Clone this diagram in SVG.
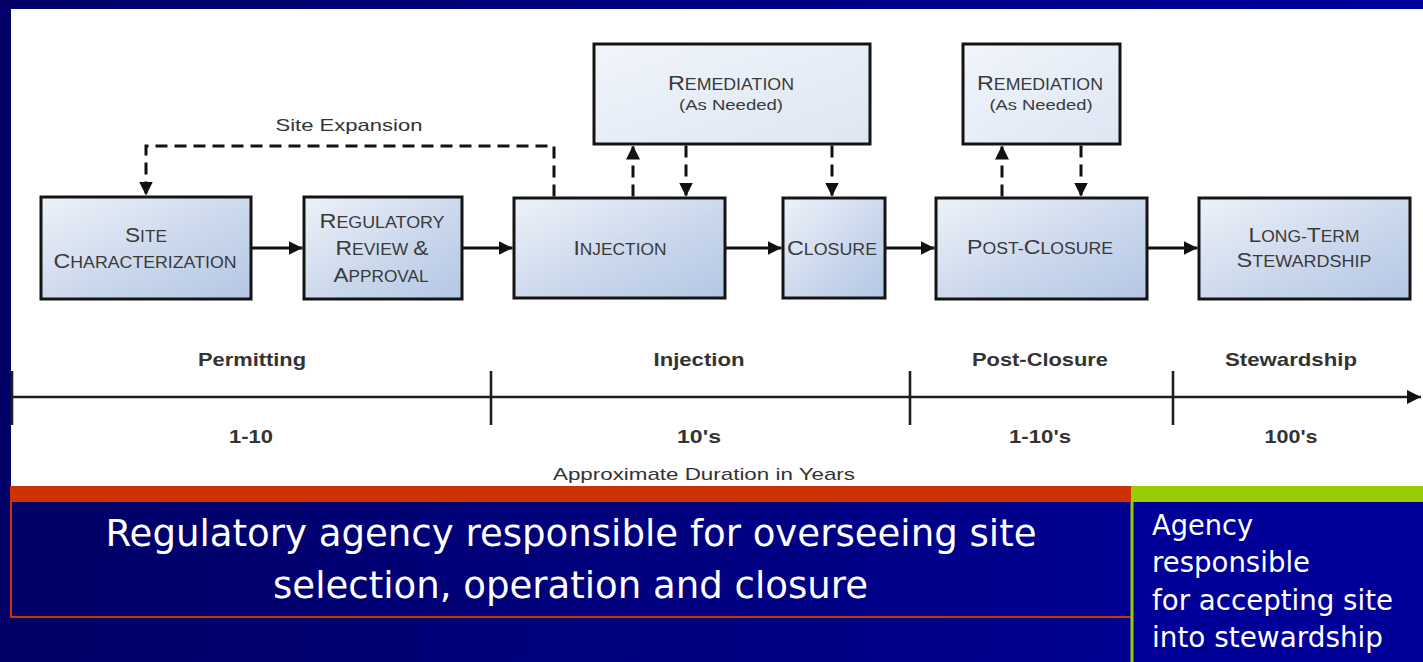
<svg xmlns="http://www.w3.org/2000/svg" width="1423" height="662" viewBox="0 0 1423 662">
  <style>
    .box { stroke: #141414; stroke-width: 3; }
    .lbl { font-family: "Liberation Sans", Arial, sans-serif; fill: #3a3a3a; text-anchor: middle; }
    .cap { font-size: 21px; }
    .sc { font-size: 16px; }
    .note { font-size: 15.5px; }
    .solid { fill: none; stroke: #111; stroke-width: 3; }
    .dash { fill: none; stroke: #111; stroke-width: 3; stroke-dasharray: 12 7; }
    .axis { fill: none; stroke: #1e1e1e; stroke-width: 2.6; }
    .phase { font-family: "Liberation Sans", Arial, sans-serif; font-weight: bold; font-size: 19px; fill: #333; text-anchor: middle; }
    .small { font-family: "Liberation Sans", Arial, sans-serif; font-size: 17px; fill: #333; text-anchor: middle; }
    .big { font-family: "DejaVu Sans", Verdana, sans-serif; font-size: 38px; fill: #ffffff; text-anchor: middle; }
    .side { font-family: "DejaVu Sans", Verdana, sans-serif; font-size: 29px; fill: #ffffff; }
  </style>
  <defs>
    <linearGradient id="bg" x1="0" y1="0" x2="1" y2="0">
      <stop offset="0" stop-color="#000066"/>
      <stop offset="1" stop-color="#00009c"/>
    </linearGradient>
    <linearGradient id="stepFill" x1="0" y1="0" x2="1" y2="1">
      <stop offset="0" stop-color="#eef2f9"/>
      <stop offset="0.55" stop-color="#cbd8ec"/>
      <stop offset="1" stop-color="#b3c7e5"/>
    </linearGradient>
    <linearGradient id="remFill" x1="0" y1="0" x2="1" y2="1">
      <stop offset="0" stop-color="#f1f5fb"/>
      <stop offset="1" stop-color="#dde6f3"/>
    </linearGradient>
    <marker id="head" markerUnits="userSpaceOnUse" markerWidth="16" markerHeight="16" refX="14" refY="7" orient="auto">
      <path d="M0,0 L14,7 L0,14 z" fill="#111"/>
    </marker>
  </defs>

  <!-- slide background and white drawing panel -->
  <rect x="0" y="0" width="1423" height="662" fill="url(#bg)"/>
  <rect x="11" y="9" width="1412" height="477" fill="#ffffff"/>

  <!-- coloured bars under the panel -->
  <rect x="10" y="486" width="1121" height="16" fill="#cc3300"/>
  <rect x="1131" y="486" width="292" height="16" fill="#99cc00"/>

  <!-- connectors -->
  <g id="connectors">
    <path class="solid" d="M252,248 H302.5" marker-end="url(#head)"/>
    <path class="solid" d="M463,248 H512.5" marker-end="url(#head)"/>
    <path class="solid" d="M726,248 H781.5" marker-end="url(#head)"/>
    <path class="solid" d="M886,248 H934.5" marker-end="url(#head)"/>
    <path class="solid" d="M1148,248 H1197.5" marker-end="url(#head)"/>
    <path class="dash" d="M554,196.5 V146 H146 V195.5" marker-end="url(#head)"/>
    <path class="dash" d="M633,196.5 V145.5" marker-end="url(#head)"/>
    <path class="dash" d="M686,145.5 V196.5" marker-end="url(#head)"/>
    <path class="dash" d="M832,145.5 V196.5" marker-end="url(#head)"/>
    <path class="dash" d="M1002,196.5 V145.5" marker-end="url(#head)"/>
    <path class="dash" d="M1081,145.5 V196.5" marker-end="url(#head)"/>
    <text class="small" x="349" y="131" font-size="19" textLength="147" lengthAdjust="spacingAndGlyphs">Site Expansion</text>
  </g>

  <!-- process steps -->
  <g id="site-characterization">
    <rect class="box" x="41" y="197" width="210" height="102" fill="url(#stepFill)"/>
    <text class="lbl" x="146" y="242" textLength="42" lengthAdjust="spacingAndGlyphs"><tspan class="cap">S</tspan><tspan class="sc">ITE</tspan></text>
    <text class="lbl" x="145" y="268" textLength="183" lengthAdjust="spacingAndGlyphs"><tspan class="cap">C</tspan><tspan class="sc">HARACTERIZATION</tspan></text>
  </g>

  <g id="regulatory-review">
    <rect class="box" x="304" y="197" width="158" height="102" fill="url(#stepFill)"/>
    <text class="lbl" x="382" y="228" textLength="125" lengthAdjust="spacingAndGlyphs"><tspan class="cap">R</tspan><tspan class="sc">EGULATORY</tspan></text>
    <text class="lbl" x="382" y="255" textLength="93" lengthAdjust="spacingAndGlyphs"><tspan class="cap">R</tspan><tspan class="sc">EVIEW </tspan><tspan class="cap">&amp;</tspan></text>
    <text class="lbl" x="381" y="282" textLength="95" lengthAdjust="spacingAndGlyphs"><tspan class="cap">A</tspan><tspan class="sc">PPROVAL</tspan></text>
  </g>

  <g id="injection">
    <rect class="box" x="514" y="198" width="211" height="100" fill="url(#stepFill)"/>
    <text class="lbl" x="620" y="255" textLength="93" lengthAdjust="spacingAndGlyphs"><tspan class="cap">I</tspan><tspan class="sc">NJECTION</tspan></text>
  </g>

  <g id="closure">
    <rect class="box" x="783" y="198" width="102" height="100" fill="url(#stepFill)"/>
    <text class="lbl" x="832" y="255" textLength="90" lengthAdjust="spacingAndGlyphs"><tspan class="cap">C</tspan><tspan class="sc">LOSURE</tspan></text>
  </g>

  <g id="remediation-injection">
    <rect class="box" x="594" y="44" width="276" height="100" fill="url(#remFill)"/>
    <text class="lbl" x="731" y="90" textLength="126" lengthAdjust="spacingAndGlyphs"><tspan class="cap">R</tspan><tspan class="sc">EMEDIATION</tspan></text>
    <text class="lbl note" x="731" y="110" textLength="104" lengthAdjust="spacingAndGlyphs">(As Needed)</text>
  </g>

  <g id="post-closure">
    <rect class="box" x="936" y="198" width="211" height="101" fill="url(#stepFill)"/>
    <text class="lbl" x="1040" y="254" textLength="146" lengthAdjust="spacingAndGlyphs"><tspan class="cap">P</tspan><tspan class="sc">OST-</tspan><tspan class="cap">C</tspan><tspan class="sc">LOSURE</tspan></text>
  </g>

  <g id="remediation-post-closure">
    <rect class="box" x="963" y="44" width="157" height="100" fill="url(#remFill)"/>
    <text class="lbl" x="1040" y="90" textLength="126" lengthAdjust="spacingAndGlyphs"><tspan class="cap">R</tspan><tspan class="sc">EMEDIATION</tspan></text>
    <text class="lbl note" x="1041" y="110" textLength="103" lengthAdjust="spacingAndGlyphs">(As Needed)</text>
  </g>

  <g id="long-term-stewardship">
    <rect class="box" x="1199" y="198" width="211" height="101" fill="url(#stepFill)"/>
    <text class="lbl" x="1304" y="242" textLength="111" lengthAdjust="spacingAndGlyphs"><tspan class="cap">L</tspan><tspan class="sc">ONG-</tspan><tspan class="cap">T</tspan><tspan class="sc">ERM</tspan></text>
    <text class="lbl" x="1304" y="267" textLength="135" lengthAdjust="spacingAndGlyphs"><tspan class="cap">S</tspan><tspan class="sc">TEWARDSHIP</tspan></text>
  </g>

  <!-- duration timeline -->
  <g id="timeline">
    <path class="axis" d="M11,397 H1421" marker-end="url(#head)"/>
    <path class="axis" d="M12,371 V425 M491,371 V425 M910,371 V425 M1173,371 V425"/>
    <text class="phase" x="252" y="366" textLength="108" lengthAdjust="spacingAndGlyphs">Permitting</text>
    <text class="phase" x="699" y="366" textLength="91" lengthAdjust="spacingAndGlyphs">Injection</text>
    <text class="phase" x="1040" y="366" textLength="136" lengthAdjust="spacingAndGlyphs">Post-Closure</text>
    <text class="phase" x="1291" y="366" textLength="132" lengthAdjust="spacingAndGlyphs">Stewardship</text>
    <text class="phase" x="251" y="443" textLength="44" lengthAdjust="spacingAndGlyphs">1-10</text>
    <text class="phase" x="699" y="443" textLength="44" lengthAdjust="spacingAndGlyphs">10's</text>
    <text class="phase" x="1040" y="443" textLength="62" lengthAdjust="spacingAndGlyphs">1-10's</text>
    <text class="phase" x="1291" y="443" textLength="53" lengthAdjust="spacingAndGlyphs">100's</text>
    <text class="small" x="704" y="480" textLength="302" lengthAdjust="spacingAndGlyphs">Approximate Duration in Years</text>
  </g>

  <!-- responsibility captions -->
  <g id="regulatory-agency">
    <path d="M11,502 V617 H1131" fill="none" stroke="#cc3300" stroke-width="2"/>
    <text class="big" x="571" y="546" textLength="931" lengthAdjust="spacingAndGlyphs">Regulatory agency responsible for overseeing site</text>
    <text class="big" x="570.5" y="598" textLength="595" lengthAdjust="spacingAndGlyphs">selection, operation and closure</text>
  </g>

  <g id="stewardship-agency">
    <rect x="1132" y="502" width="291" height="160" fill="#000099"/>
    <path d="M1132,502 V662" fill="none" stroke="#99cc00" stroke-width="3"/>
    <text class="side" x="1152" y="535" textLength="101" lengthAdjust="spacingAndGlyphs">Agency</text>
    <text class="side" x="1152" y="572" textLength="158" lengthAdjust="spacingAndGlyphs">responsible</text>
    <text class="side" x="1152" y="610" textLength="241" lengthAdjust="spacingAndGlyphs">for accepting site</text>
    <text class="side" x="1152" y="647" textLength="231" lengthAdjust="spacingAndGlyphs">into stewardship</text>
  </g>
</svg>
